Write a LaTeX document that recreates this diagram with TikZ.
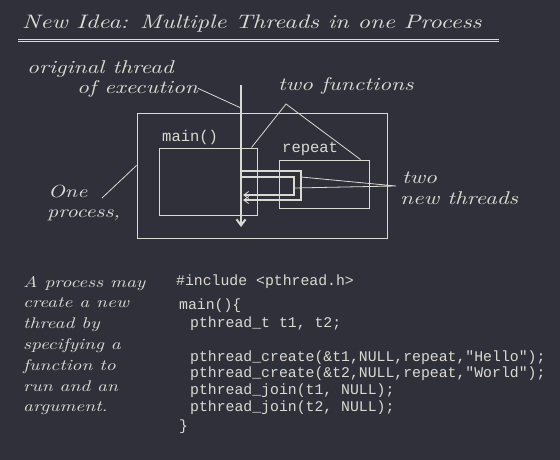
\documentclass[tikz,border=0pt]{standalone}
\usepackage{fontspec}
\usetikzlibrary{arrows.meta}
\definecolor{slate}{RGB}{47,48,58}
\definecolor{chalk}{RGB}{218,218,208}
\newfontfamily\handfont{lmroman10-italic}[Extension=.otf,FakeStretch=1.25]
\newfontfamily\codefont{Liberation Mono}[Ligatures=TeXOff]
\tikzset{
  box/.style={draw=chalk, line width=1pt, inner sep=0pt},
  hand/.style={text=chalk, inner sep=0pt, anchor=base west, font=\handfont\fontsize{18.5}{22}\selectfont},
  code/.style={text=chalk, inner sep=0pt, anchor=base west, font=\codefont\fontsize{14.8}{17}\selectfont},
  pointer/.style={draw=chalk, line width=0.8pt},
  thread/.style={draw=chalk, line width=2pt},
}
\begin{document}
\begin{tikzpicture}[x=1pt, y=-1pt]
  \fill[slate] (0,0) rectangle (560,460);
  \useasboundingbox (0,0) rectangle (560,460);

  \node[hand, font=\handfont\fontsize{19.5}{22}\selectfont] (title) at (22,29) {New Idea: Multiple Threads in one Process};
  \coordinate (rulel) at (18,40.3);
  \coordinate (ruler) at (499,40.3);
  \draw[chalk, line width=0.8pt, double=slate, double distance=1.2pt] (rulel) -- (ruler);

  \node[box, minimum width=250pt, minimum height=125pt] (process) at (262,175.5) {};
  \node[box, minimum width=98pt, minimum height=67pt] (mainfn) at (208,181.5) {};
  \node[box, minimum width=90pt, minimum height=48pt] (repeatfn) at (324,184) {};
  \node[code, font=\codefont\fontsize{15.5}{17}\selectfont] (mainlbl) at (162,142) {main()};
  \node[code, font=\codefont\fontsize{15.5}{17}\selectfont] (replbl) at (282,152) {repeat};

  \coordinate (start) at (241,85);
  \coordinate (finish) at (241,227);
  \draw[thread, -{Straight Barb[length=6pt,width=9pt]}] (start) -- (finish);

  \coordinate (t1s) at (241,171);
  \coordinate (t1c) at (301,200);
  \coordinate (t1e) at (243,200);
  \coordinate (t2s) at (241,177);
  \coordinate (t2c) at (294,195);
  \coordinate (t2e) at (243,195);
  \begin{scope}[thread, line width=1.8pt, -{Straight Barb[length=5pt,width=7pt,line width=0.8pt]}]
    \draw (t1s) -| (t1c) -- (t1e);
    \draw (t2s) -| (t2c) -- (t2e);
  \end{scope}

  \node[hand] (orig) at (27,74) {original thread};
  \node[hand] (exec) at (77,93) {of execution};
  \coordinate (crossing) at (241,108);
  \draw[pointer] (exec.east) -- (crossing);

  \node[hand] (fns) at (278,91) {two functions};
  \coordinate (fnapex) at (286,104);
  \draw[pointer] ([xshift=-6pt]mainfn.north east) -- (fnapex) -- ([xshift=-9pt]repeatfn.north east);

  \node[hand] (two) at (402,183) {two};
  \node[hand] (newthr) at (400,204) {new threads};
  \coordinate (t1r) at (301,177);
  \coordinate (t2r) at (294,188);
  \coordinate (thrtip) at (396,186);
  \draw[pointer] (t1r) -- (thrtip) -- (t2r);

  \node[hand, font=\handfont\fontsize{17.5}{22}\selectfont] (one) at (48,197) {One};
  \node[hand, font=\handfont\fontsize{17.5}{22}\selectfont] (proc) at (47,217) {process,};
  \coordinate (proctip) at (102,198);
  \draw[pointer] (proctip) -- ([yshift=10pt]process.west);

  \node[hand, align=left, font=\handfont\fontsize{15.5}{20.8}\selectfont] (note) at (23,411.8)
    {A process may\\create a new\\thread by\\specifying a\\function to\\run and an\\argument.};

  \node[code] (inc) at (176,285) {\#include <pthread.h>};
  \node[code] (mainl) at (179,309) {main()\{};
  \node[code] (decl) at (190,327) {pthread\_t t1, t2;};
  \node[code] (mk1) at (190,361) {pthread\_create(\&t1,NULL,repeat,"Hello");};
  \node[code] (mk2) at (190,377) {pthread\_create(\&t2,NULL,repeat,"World");};
  \node[code] (jn1) at (190,394) {pthread\_join(t1, NULL);};
  \node[code] (jn2) at (190,411) {pthread\_join(t2, NULL);};
  \node[code] (endbrace) at (179,430) {\}};
\end{tikzpicture}
\end{document}
